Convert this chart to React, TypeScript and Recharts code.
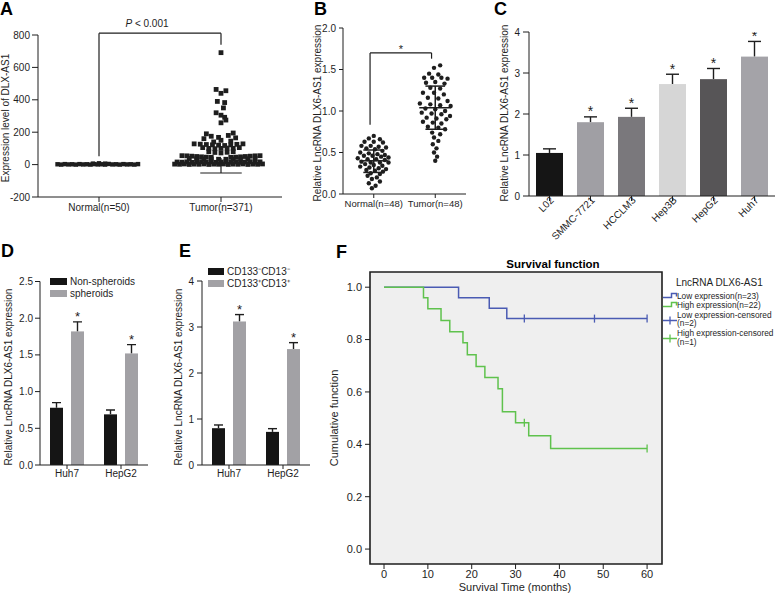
import React from 'react';
import {
  ScatterChart, Scatter, XAxis, YAxis, ReferenceLine, BarChart, Bar, Cell,
  ComposedChart, Line, ReferenceArea,
} from 'recharts';

const FONT = '"Liberation Sans", Arial, Helvetica, sans-serif';
const INK = '#1e1e1e';
const BLUE = '#4a5bb3';
const GREEN = '#5fc24d';

// ---------- Panel A : expression of DLX-AS1 (dot plot) ----------
const aGroups = ['Normal(n=50)', 'Tumor(n=371)'];
// [jitter offset within group, value]
const aNormal: [number, number][] = [
  [-0.34, 2], [-0.31, 0], [-0.28, 3], [-0.25, 1], [-0.22, 2], [-0.19, 0], [-0.16, 3], [-0.13, 1],
  [-0.1, 2], [-0.07, 0], [-0.04, 3], [-0.01, 1], [0.02, 2], [0.05, 0], [0.08, 4], [0.11, 1],
  [0.14, 2], [0.17, 0], [0.2, 3], [0.23, 1], [0.26, 2], [0.29, 0], [0.32, 3], [0.0, 8], [-0.05, 6], [0.05, 6],
];
const aTumor: [number, number][] = [
  [0, 691], [-0.04, 464], [0.04, 456], [0, 440], [-0.03, 390], [0.03, 383], [0.02, 350], [-0.04, 320],
  [0, 305], [0.03, 292], [0.04, 275], [0, 258],
  [-0.12, 190], [0.1, 195], [-0.08, 175], [0.06, 180], [-0.02, 168], [0.12, 165], [-0.14, 160], [0, 150], [0.08, 145], [-0.06, 140],
  [-0.22, 128], [-0.17, 126], [-0.12, 124], [-0.07, 122], [-0.02, 120], [0.03, 118], [0.08, 122], [0.13, 125], [0.18, 128],
  [-0.15, 105], [-0.1, 100], [-0.05, 98], [0, 100], [0.05, 102], [0.1, 100], [0.15, 105],
  [-0.1, 80], [-0.05, 75], [0, 72], [0.05, 76], [0.1, 80],
  [-0.32, 55], [-0.28, 54], [-0.24, 52], [-0.2, 50], [-0.16, 48], [-0.12, 46], [-0.08, 45], [0.08, 45],
  [0.12, 46], [0.16, 48], [0.2, 50], [0.24, 52], [0.28, 54], [0.32, 55],
  [-0.26, 38], [-0.2, 36], [-0.14, 35], [-0.08, 34], [-0.02, 33], [0.04, 33], [0.1, 34], [0.16, 35], [0.22, 36], [0.28, 38],
  [-0.36, 16], [-0.32, 15], [-0.28, 17], [-0.24, 14], [-0.2, 16], [-0.16, 18], [-0.12, 15], [-0.08, 17], [-0.04, 14],
  [0, 16], [0.04, 18], [0.08, 15], [0.12, 17], [0.16, 14], [0.2, 16], [0.24, 18], [0.28, 15], [0.32, 17],
  [-0.38, 3], [-0.34, 2], [-0.3, 4], [-0.26, 1], [-0.22, 3], [-0.18, 2], [-0.14, 4], [-0.1, 1], [-0.06, 3], [-0.02, 2],
  [0.02, 4], [0.06, 1], [0.1, 3], [0.14, 2], [0.18, 4], [0.22, 1], [0.26, 3], [0.3, 2], [0.34, 4],
];
const aTumorMean = 40;
const aTumorSdLow = -52;
const aBracket = { leftFoot: 52, top: 811, rightFoot: 740 };

// ---------- Panel B : relative expression, Normal vs Tumor ----------
const bGroups = ['Normal(n=48)', 'Tumor(n=48)'];
const bNormal: [number, number][] = [
  [0, 0.7], [-0.08, 0.67], [0.1, 0.66], [-0.15, 0.63], [0, 0.63], [0.15, 0.62], [-0.2, 0.58], [-0.05, 0.58],
  [0.08, 0.57], [0.2, 0.56], [-0.12, 0.55], [0.02, 0.54], [0.14, 0.52], [-0.22, 0.5], [-0.08, 0.49], [0.06, 0.48],
  [0.18, 0.47], [-0.16, 0.46], [-0.02, 0.46], [0.12, 0.45], [0.24, 0.44], [-0.26, 0.43], [-0.1, 0.42], [0.04, 0.42],
  [0.18, 0.41], [-0.2, 0.39], [-0.05, 0.38], [0.1, 0.38], [0.24, 0.38], [-0.14, 0.36], [0, 0.35], [0.14, 0.34],
  [-0.22, 0.33], [-0.07, 0.32], [0.08, 0.31], [0.2, 0.3], [-0.12, 0.29], [0.02, 0.28], [0.15, 0.27], [-0.05, 0.25],
  [0.1, 0.24], [-0.1, 0.22], [0.05, 0.2], [-0.03, 0.18], [0.1, 0.15], [-0.08, 0.13], [0.03, 0.1], [-0.03, 0.07],
];
const bTumor: [number, number][] = [
  [0.08, 1.55], [-0.02, 1.52], [-0.1, 1.45], [0.05, 1.44], [-0.18, 1.4], [-0.05, 1.4], [0.1, 1.4], [0.2, 1.39],
  [-0.15, 1.34], [0, 1.35], [0.15, 1.33], [-0.08, 1.28], [0.08, 1.27], [-0.2, 1.22], [-0.02, 1.22], [0.14, 1.2],
  [-0.12, 1.16], [0.05, 1.15], [0.2, 1.12], [-0.25, 1.09], [-0.08, 1.08], [0.08, 1.07], [0.25, 1.06], [-0.16, 1.03],
  [0, 1.02], [0.16, 1.0], [-0.22, 0.98], [-0.06, 0.97], [0.1, 0.96], [0.24, 0.94], [-0.14, 0.92], [0.02, 0.91],
  [0.18, 0.9], [-0.2, 0.87], [-0.04, 0.86], [0.1, 0.85], [-0.12, 0.81], [0.05, 0.8], [0.16, 0.78], [-0.05, 0.74],
  [0.08, 0.72], [-0.02, 0.68], [0.05, 0.64], [-0.04, 0.6], [0.02, 0.55], [-0.02, 0.5], [0.03, 0.45], [0, 0.4],
];
const bNormalStats = { mean: 0.4, sdLow: 0.26, sdHigh: 0.53 };
const bTumorStats = { mean: 1.04, sdLow: 0.78, sdHigh: 1.3 };
const bBracket = { leftFoot: 0.835, top: 1.7, rightFoot: 1.63 };

// ---------- Panel C : cell lines ----------
const cCellLines = ['L02', 'SMMC-7721', 'HCCLM3', 'Hep3B', 'HepG2', 'Huh7'];
const cValues = [1.05, 1.8, 1.93, 2.73, 2.85, 3.4];
const cErrors = [0.1, 0.13, 0.21, 0.24, 0.26, 0.37];
const cSignificant = [false, true, true, true, true, true];
const cColors = ['#151515', '#a09fa4', '#7a787c', '#d6d6d6', '#575557', '#a4a3a8'];

// ---------- Panel D : spheroids ----------
const dGroups = ['Huh7', 'HepG2'];
const dNonSpheroids = [0.78, 0.69];
const dNonSpheroidsErr = [0.07, 0.06];
const dSpheroids = [1.82, 1.52];
const dSpheroidsErr = [0.13, 0.12];

// ---------- Panel E : CD133/CD13 ----------
const eGroups = ['Huh7', 'HepG2'];
const eNeg = [0.8, 0.72];
const eNegErr = [0.07, 0.07];
const ePos = [3.12, 2.52];
const ePosErr = [0.15, 0.14];

// ---------- Panel F : Kaplan-Meier ----------
const kmLowTimes = [0, 17, 24, 28, 60];
const kmLowSurv = [1, 0.96, 0.92, 0.88, 0.88];
const kmHighTimes = [0, 9, 10, 13, 15, 18, 19, 21, 23, 26, 27, 30, 33, 38, 60];
const kmHighSurv = [1, 0.96, 0.918, 0.873, 0.83, 0.788, 0.742, 0.697, 0.655, 0.612, 0.524, 0.482, 0.433, 0.384, 0.384];
const kmLowCensorTimes = [32, 48, 60];
const kmLowCensorSurv = [0.88, 0.88, 0.88];
const kmHighCensorTimes = [32, 60];
const kmHighCensorSurv = [0.482, 0.384];
const fXTicks = [0, 10, 20, 30, 40, 50, 60];
const fYTicks = [0, 0.2, 0.4, 0.6, 0.8, 1.0];

// ---------- helpers ----------
const toPoints = (center: number, arr: [number, number][]) => arr.map(([o, v]) => ({ x: center + o, y: v }));
const tickStyle = { fill: INK, fontSize: 10, fontFamily: FONT };
const full = { position: 'absolute' as const, left: 0, top: 0 };

const SquareDot = (p: any) => <rect x={p.cx - 2.4} y={p.cy - 2.4} width={4.8} height={4.8} fill={INK} />;
const SmallSquare = (p: any) => <rect x={p.cx - 2.2} y={p.cy - 2.2} width={4.4} height={4.4} fill={INK} />;
const RoundDot = (p: any) => <circle cx={p.cx} cy={p.cy} r={2.2} fill={INK} />;

const makeBarShape = (valKey: string, errKey: string, sigKey: string | null, capHalf: number, starSize: number) => (p: any) => {
  const { x, y, width, height, fill, payload } = p;
  const val = payload[valKey];
  const pxPerUnit = val ? height / val : 0;
  const errPx = payload[errKey] * pxPerUnit;
  const cx = x + width / 2;
  const capY = y - errPx;
  const sig = sigKey ? payload[sigKey] : false;
  return (
    <g>
      <line x1={cx} x2={cx} y1={y} y2={capY} stroke={INK} strokeWidth={1.4} />
      <line x1={cx - capHalf} x2={cx + capHalf} y1={capY} y2={capY} stroke={INK} strokeWidth={1.4} />
      <rect x={x} y={y} width={width} height={height} fill={fill} />
      {sig ? (
        <text x={cx} y={capY - 0.5} textAnchor="middle" fontSize={starSize} fontFamily={FONT} fill={INK}>*</text>
      ) : null}
    </g>
  );
};

const CensorMark = (color: string) => (p: any) => (
  <line x1={p.cx} x2={p.cx} y1={p.cy - 4} y2={p.cy + 4} stroke={color} strokeWidth={1.3} />
);

const RotTick = (p: any) => (
  <g transform={`translate(${p.x},${p.y})`}>
    <text x={5} y={0} dy={2} textAnchor="end" transform="rotate(-45)" fontSize={10} fontFamily={FONT} fill={INK}>
      {p.payload.value}
    </text>
  </g>
);

const refLine = (x1: number, y1: number, x2: number, y2: number, key: string, w = 1.2, label?: any) => (
  <ReferenceLine
    key={key}
    segment={[{ x: x1, y: y1 }, { x: x2, y: y2 }]}
    stroke={INK}
    strokeWidth={w}
    ifOverflow="visible"
    label={label}
  />
);

const PLabel = (props: any) => {
  const vb = props.viewBox || {};
  return (
    <text x={vb.x + vb.width / 2 - 13} y={vb.y - 6} textAnchor="middle" fontSize={10} fontFamily={FONT} fill={INK}>
      <tspan fontStyle="italic">P</tspan> &lt; 0.001
    </text>
  );
};
const StarLabel = (props: any) => {
  const vb = props.viewBox || {};
  return (
    <text x={vb.x + vb.width / 2} y={vb.y + 0.5} textAnchor="middle" fontSize={11} fontFamily={FONT} fill={INK}>*</text>
  );
};

// ---------- charts ----------
const PanelA = () => {
  const normal = toPoints(0.5, aNormal);
  const tumor = toPoints(1.5, aTumor);
  return (
    <div style={full}>
      <ScatterChart width={778} height={594} margin={{ top: 35, right: 496, bottom: 367, left: 2 }}>
        <XAxis type="number" dataKey="x" domain={[0, 2]} ticks={[0.5, 1.5]} interval={0}
          tickFormatter={(v: number) => aGroups[Math.floor(v)]} allowDataOverflow height={30}
          tickSize={5} tickMargin={2} stroke={INK} tick={tickStyle} />
        <YAxis type="number" dataKey="y" domain={[-200, 800]} ticks={[-200, 0, 200, 400, 600, 800]} interval={0}
          allowDataOverflow width={36} tickSize={6} tickMargin={2} stroke={INK} tick={tickStyle} />
        <Scatter data={normal} shape={SmallSquare} isAnimationActive={false} />
        <Scatter data={tumor} shape={SquareDot} isAnimationActive={false} />
        {refLine(1.5, aTumorMean, 1.5, aTumorSdLow, 'aerr')}
        {refLine(1.33, aTumorSdLow, 1.67, aTumorSdLow, 'acap')}
        {refLine(0.5, aBracket.leftFoot, 0.5, aBracket.top, 'abl')}
        {refLine(0.5, aBracket.top, 1.5, aBracket.top, 'abt', 1.2, <PLabel />)}
        {refLine(1.5, aBracket.top, 1.5, aBracket.rightFoot, 'abr')}
      </ScatterChart>
    </div>
  );
};

const PanelB = () => {
  const normal = toPoints(0.5, bNormal);
  const tumor = toPoints(1.5, bTumor);
  return (
    <div style={full}>
      <ScatterChart width={778} height={594} margin={{ top: 28, right: 312, bottom: 370, left: 313 }}>
        <XAxis type="number" dataKey="x" domain={[0, 2]} ticks={[0.5, 1.5]} interval={0}
          tickFormatter={(v: number) => bGroups[Math.floor(v)]} allowDataOverflow height={30}
          tickSize={4} tickMargin={2} stroke={INK} tick={{ ...tickStyle, fontSize: 9.5 }} />
        <YAxis type="number" dataKey="y" domain={[0, 2]} ticks={[0, 0.5, 1, 1.5, 2]} interval={0}
          tickFormatter={(v: number) => v.toFixed(1)} allowDataOverflow width={30} tickSize={4} tickMargin={3}
          stroke={INK} tick={tickStyle} />
        <Scatter data={normal} shape={RoundDot} isAnimationActive={false} />
        <Scatter data={tumor} shape={RoundDot} isAnimationActive={false} />
        {refLine(0.27, bNormalStats.mean, 0.73, bNormalStats.mean, 'nm', 1.5)}
        {refLine(0.33, bNormalStats.sdLow, 0.67, bNormalStats.sdLow, 'nl', 1.5)}
        {refLine(0.33, bNormalStats.sdHigh, 0.67, bNormalStats.sdHigh, 'nh', 1.5)}
        {refLine(0.5, bNormalStats.sdLow, 0.5, bNormalStats.sdHigh, 'nv', 1.5)}
        {refLine(1.24, bTumorStats.mean, 1.76, bTumorStats.mean, 'tm', 1.5)}
        {refLine(1.34, bTumorStats.sdLow, 1.66, bTumorStats.sdLow, 'tl', 1.5)}
        {refLine(1.34, bTumorStats.sdHigh, 1.66, bTumorStats.sdHigh, 'th', 1.5)}
        {refLine(1.5, bTumorStats.sdLow, 1.5, bTumorStats.sdHigh, 'tv', 1.5)}
        {refLine(0.44, bBracket.leftFoot, 0.44, bBracket.top, 'bbl')}
        {refLine(0.44, bBracket.top, 1.44, bBracket.top, 'bbt', 1.2, <StarLabel />)}
        {refLine(1.44, bBracket.top, 1.44, bBracket.rightFoot, 'bbr')}
      </ScatterChart>
    </div>
  );
};

const PanelC = () => {
  const data = cCellLines.map((name, i) => ({ name, value: cValues[i], err: cErrors[i], sig: cSignificant[i] }));
  return (
    <div style={full}>
      <BarChart width={778} height={594} data={data} margin={{ top: 32, right: 3, bottom: 338, left: 509 }}>
        <XAxis dataKey="name" interval={0} height={60} tickSize={5} tickMargin={2} stroke={INK} tick={<RotTick />} />
        <YAxis domain={[0, 4]} ticks={[0, 1, 2, 3, 4]} interval={0} width={20} tickSize={6} tickMargin={3}
          stroke={INK} tick={tickStyle} allowDataOverflow />
        <Bar dataKey="value" barSize={27} isAnimationActive={false} shape={makeBarShape('value', 'err', 'sig', 6.5, 14)}>
          {data.map((d, i) => <Cell key={d.name} fill={cColors[i]} />)}
        </Bar>
      </BarChart>
    </div>
  );
};

const PairBars = (props: {
  groups: string[]; a: number[]; aErr: number[]; b: number[]; bErr: number[];
  yMax: number; yTicks: number[]; fmt: (v: number) => string; margin: any; yWidth: number; tickMargin: number;
}) => {
  const data = props.groups.map((name, i) => ({
    name, a: props.a[i], aErr: props.aErr[i], b: props.b[i], bErr: props.bErr[i], sig: true,
  }));
  return (
    <div style={full}>
      <BarChart width={778} height={594} data={data} margin={props.margin} barGap={8}>
        <XAxis dataKey="name" interval={0} height={25} tickSize={4} tickMargin={1} stroke={INK} tick={tickStyle} />
        <YAxis domain={[0, props.yMax]} ticks={props.yTicks} interval={0} width={props.yWidth} tickSize={5}
          tickMargin={props.tickMargin} tickFormatter={props.fmt} stroke={INK} tick={tickStyle} allowDataOverflow />
        <Bar dataKey="a" fill="#151515" barSize={13} isAnimationActive={false} shape={makeBarShape('a', 'aErr', null, 4.5, 13)} />
        <Bar dataKey="b" fill="#a2a1a5" barSize={13} isAnimationActive={false} shape={makeBarShape('b', 'bErr', 'sig', 4.5, 13)} />
      </BarChart>
    </div>
  );
};

const PanelF = () => {
  const low = kmLowTimes.map((t, i) => ({ t, s: kmLowSurv[i] }));
  const high = kmHighTimes.map((t, i) => ({ t, s: kmHighSurv[i] }));
  const lowC = kmLowCensorTimes.map((t, i) => ({ t, s: kmLowCensorSurv[i] }));
  const highC = kmHighCensorTimes.map((t, i) => ({ t, s: kmHighCensorSurv[i] }));
  const xd: [number, number] = [-3.2, 63.4];
  const yd: [number, number] = [-0.057, 1.058];
  return (
    <div style={full}>
      <ComposedChart width={778} height={594} margin={{ top: 272, right: 116, bottom: 5, left: 340 }}>
        <XAxis type="number" dataKey="t" domain={xd} ticks={fXTicks} interval={0} allowDataOverflow axisLine={false}
          height={25} tickSize={5} tickMargin={1} stroke={INK} tick={{ ...tickStyle, fontSize: 11 }} />
        <YAxis type="number" dataKey="s" domain={yd} ticks={fYTicks} interval={0} allowDataOverflow axisLine={false}
          width={30} tickSize={5} tickMargin={3} tickFormatter={(v: number) => v.toFixed(1)} stroke={INK}
          tick={{ ...tickStyle, fontSize: 11 }} />
        <ReferenceArea x1={xd[0]} x2={xd[1]} y1={yd[0]} y2={yd[1]} fill="#efefef" fillOpacity={1}
          stroke={INK} strokeWidth={1.6} ifOverflow="visible" />
        <Line data={low} dataKey="s" type="stepAfter" stroke={BLUE} strokeWidth={1.5} dot={false} isAnimationActive={false} />
        <Line data={high} dataKey="s" type="stepAfter" stroke={GREEN} strokeWidth={1.5} dot={false} isAnimationActive={false} />
        <Scatter data={lowC} dataKey="s" shape={CensorMark(BLUE)} isAnimationActive={false} />
        <Scatter data={highC} dataKey="s" shape={CensorMark(GREEN)} isAnimationActive={false} />
      </ComposedChart>
    </div>
  );
};

// ---------- annotations (panel letters, axis titles, legends) ----------
const yLabelText = 'Relative LncRNA DLX6-AS1 expression';
const VLabel = ({ x, y, text, size = 10 }: { x: number; y: number; text: string; size?: number }) => (
  <text x={x} y={y} transform={`rotate(-90 ${x} ${y})`} textAnchor="middle" fontSize={size} fontFamily={FONT} fill={INK}>
    {text}
  </text>
);
const Letter = ({ x, y, t }: { x: number; y: number; t: string }) => (
  <text x={x} y={y} fontSize={18} fontWeight="bold" fontFamily={FONT} fill="#000">{t}</text>
);
const LEG = 8.3;

const Overlay = () => (
  <svg width={778} height={594} style={{ ...full, pointerEvents: 'none' }}>
    <Letter x={0} y={15} t="A" />
    <Letter x={314} y={15} t="B" />
    <Letter x={494} y={15} t="C" />
    <Letter x={1} y={257} t="D" />
    <Letter x={179} y={257} t="E" />
    <Letter x={336} y={258} t="F" />

    <VLabel x={9} y={118} text="Expression level of DLX-AS1" />
    <VLabel x={321} y={113} text={yLabelText} />
    <VLabel x={508} y={113} text={yLabelText} />
    <VLabel x={12} y={377} text={yLabelText} />
    <VLabel x={182} y={377} text={yLabelText} />
    <VLabel x={338} y={418} text="Cumulative function" size={11} />

    {/* D legend */}
    <rect x={50} y={278} width={17} height={7} fill="#151515" />
    <text x={70} y={285} fontSize={10} fontFamily={FONT} fill={INK}>Non-spheroids</text>
    <rect x={50} y={290} width={17} height={7} fill="#a2a1a5" />
    <text x={70} y={297} fontSize={10} fontFamily={FONT} fill={INK}>spheroids</text>

    {/* E legend */}
    <rect x={208} y={268} width={16} height={7} fill="#151515" />
    <text x={227} y={275} fontSize={10} fontFamily={FONT} fill={INK}>CD133⁻CD13⁻</text>
    <rect x={208} y={280} width={16} height={7} fill="#a2a1a5" />
    <text x={227} y={287} fontSize={10} fontFamily={FONT} fill={INK}>CD133⁺CD13⁺</text>

    {/* F title and axis title */}
    <text x={553} y={268} textAnchor="middle" fontSize={11.5} fontWeight="bold" fontFamily={FONT} fill="#000">Survival function</text>
    <text x={515} y={591} textAnchor="middle" fontSize={11} fontFamily={FONT} fill={INK}>Survival Time (months)</text>

    {/* F legend */}
    <text x={676} y={286} fontSize={10} fontFamily={FONT} fill={INK}>LncRNA DLX6-AS1</text>
    <path d="M663 297.5 H671.5 V293.5 H676.5 V296.5" fill="none" stroke={BLUE} strokeWidth={1.5} />
    <text x={677} y={298.5} fontSize={LEG} fontFamily={FONT} fill={INK}>Low expression(n=23)</text>
    <path d="M663 306.5 H671.5 V302.5 H676.5 V305.5" fill="none" stroke={GREEN} strokeWidth={1.5} />
    <text x={677} y={307.5} fontSize={LEG} fontFamily={FONT} fill={INK}>High expression(n=22)</text>
    <line x1={663} x2={677} y1={320.5} y2={320.5} stroke={BLUE} strokeWidth={1.5} />
    <line x1={670} x2={670} y1={316.5} y2={324.5} stroke={BLUE} strokeWidth={1.3} />
    <text x={677} y={317.5} fontSize={LEG} fontFamily={FONT} fill={INK}>Low expression-censored</text>
    <text x={677} y={326} fontSize={LEG} fontFamily={FONT} fill={INK}>(n=2)</text>
    <line x1={663} x2={677} y1={338.5} y2={338.5} stroke={GREEN} strokeWidth={1.5} />
    <line x1={670} x2={670} y1={334.5} y2={342.5} stroke={GREEN} strokeWidth={1.3} />
    <text x={677} y={336} fontSize={LEG} fontFamily={FONT} fill={INK}>High expression-censored</text>
    <text x={677} y={344.5} fontSize={LEG} fontFamily={FONT} fill={INK}>(n=1)</text>
  </svg>
);

export default function App() {
  return (
    <div style={{ ...full, width: 778, height: 594, background: '#fff', overflow: 'hidden', fontFamily: FONT }}>
      <PanelA />
      <PanelB />
      <PanelC />
      <PairBars groups={dGroups} a={dNonSpheroids} aErr={dNonSpheroidsErr} b={dSpheroids} bErr={dSpheroidsErr}
        yMax={2.5} yTicks={[0, 0.5, 1, 1.5, 2, 2.5]} fmt={(v) => v.toFixed(1)}
        margin={{ top: 281.5, right: 630, bottom: 104, left: 15 }} yWidth={25} tickMargin={2} />
      <PairBars groups={eGroups} a={eNeg} aErr={eNegErr} b={ePos} bErr={ePosErr}
        yMax={4} yTicks={[0, 1, 2, 3, 4]} fmt={(v) => String(v)}
        margin={{ top: 281, right: 468, bottom: 104, left: 182 }} yWidth={20} tickMargin={3} />
      <PanelF />
      <Overlay />
    </div>
  );
}
